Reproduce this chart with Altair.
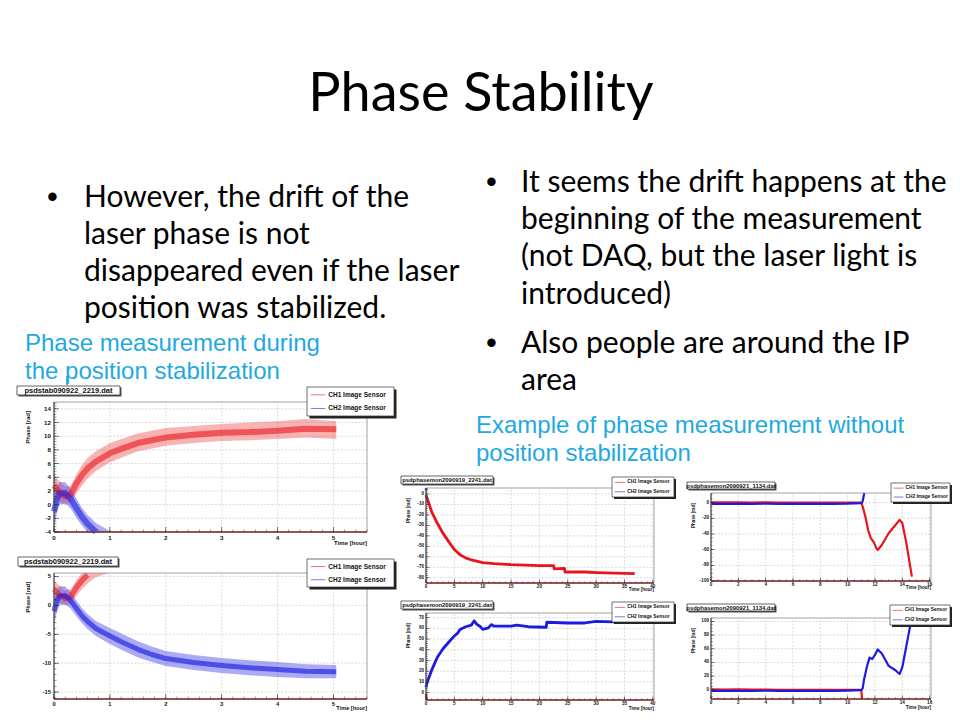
import math
import altair as alt
import pandas as pd

OFF = 8          # page margin: page pixel -> chart pixel
W, H = 944, 704

# ---------------- slide text ----------------
title_text = "Phase Stability"
left_bullet = ["However, the drift of the", "laser phase is not",
               "disappeared even if the laser", "position was stabilized."]
right_bullet1 = ["It seems the drift happens at the", "beginning of the measurement",
                 "(not DAQ, but the laser light is", "introduced)"]
right_bullet2 = ["Also people are around the IP", "area"]
caption_left = ["Phase measurement during", "the position stabilization"]
caption_right = ["Example of phase measurement without", "position stabilization"]

file_A = "psdstab090922_2219.dat"
file_B = "psdphasemon2090919_2241.dat"
file_C = "psdphasemon2090921_1134.dat"
legend_names = ["CH1 Image Sensor", "CH2 Image Sensor"]
x_title = "Time [hour]"
y_title = "Phase [rad]"

# ---------------- dataset A (dense scatter, read as bands) ----------------
tA = [0, 0.05, 0.1, 0.2, 0.3, 0.4, 0.5, 0.6, 0.75, 1.0, 1.25, 1.5, 1.75, 2.0, 2.5, 3.0, 3.5, 4.0, 4.5, 5.05]
A1_mid = [2.8, 2.3, 1.8, 1.2, 1.5, 3.1, 4.3, 5.3, 6.3, 7.5, 8.3, 9.0, 9.4, 9.8, 10.2, 10.5, 10.6, 10.8, 11.1, 11.0]
A1_lo = [1.2, 0.8, 0.4, 0.0, 0.3, 1.6, 2.8, 3.8, 4.9, 6.2, 7.0, 7.8, 8.2, 8.6, 9.0, 9.3, 9.4, 9.6, 9.8, 9.6]
A1_hi = [4.4, 3.8, 3.4, 2.6, 2.8, 4.4, 5.8, 6.8, 7.8, 9.0, 9.7, 10.4, 10.8, 11.2, 11.5, 11.8, 12.0, 12.2, 12.5, 12.2]
A2_mid = [-1.0, 0.8, 1.6, 1.7, 0.8, -0.5, -1.8, -2.8, -4.0, -5.3, -6.5, -7.6, -8.5, -9.2, -9.9, -10.4, -10.8, -11.1, -11.4, -11.5]
A2_lo = [-3.5, -1.2, 0.0, 0.2, -0.6, -1.9, -3.1, -4.1, -5.3, -6.7, -7.9, -9.0, -9.8, -10.5, -11.2, -11.7, -12.1, -12.4, -12.6, -12.6]
A2_hi = [1.0, 2.6, 3.3, 3.3, 2.3, 0.9, -0.5, -1.5, -2.7, -3.9, -5.1, -6.2, -7.1, -7.9, -8.6, -9.1, -9.5, -9.8, -10.2, -10.3]

# ---------------- dataset B ----------------
tB1 = [0, 0.5, 1, 1.5, 2, 3, 4, 5, 6, 7, 8, 10, 12, 15, 20, 22.5, 22.6, 24.4, 24.5, 28, 30, 36.8]
B1 = [-1, -9, -17, -22.6, -28, -37.6, -45.5, -53, -58, -61, -63, -65.5, -66.5, -67.5, -68.5, -68.5,
      -71.5, -71, -74.5, -74.5, -75, -76]
tB2 = [0, 0.2, 0.5, 1, 2, 3, 4, 5, 5.5, 6, 7, 8, 8.5, 9, 9.5, 10, 11, 11.5, 12, 15, 16, 18, 21, 21.2,
       21.3, 25, 28, 30, 33, 36.8]
B2 = [5, 10, 14, 21, 33, 41, 47, 53, 55, 59, 61.5, 63, 67, 63.5, 62, 59, 60.5, 63.5, 62, 62, 63, 61.5,
      61, 61, 65.7, 65, 65, 66.5, 66, 66]
B2_in_top_t = [0, 0.05]      # CH2 visible at the top edge of the CH1 panel
B2_in_top = [3.5, 5.7]
B1_in_bot_t = [0, 0.1]       # CH1 visible at the bottom edge of the CH2 panel
B1_in_bot = [-1.0, -6.8]

# ---------------- dataset C ----------------
tC1 = [0, 1, 2, 3, 4, 5, 6, 7, 8, 9, 10, 11.0, 11.1, 11.3, 11.5, 11.7, 11.9, 12.1, 12.2, 12.5, 13.0,
       13.5, 13.8, 14.0, 14.3, 14.7]
C1 = [0.5, 0.3, 0.5, 0.2, 0.4, 0, 0, 0, 0, 0, 0, 0, -5, -18, -35, -45.5, -50, -58, -60.4, -54, -39,
      -28.5, -22, -26, -52, -94.5]
tC2 = [0, 1, 2, 3, 4, 5, 6, 7, 8, 9, 10, 11.0, 11.1, 11.2, 11.4, 11.6, 11.8, 12.0, 12.2, 12.5, 13.0,
       13.5, 13.8, 14.0, 14.3, 14.6, 14.75]
C2 = [-1.5, -1.5, -1.6, -1.5, -1.4, -1.5, -1.5, -1.5, -1.5, -1.5, -1.2, -0.5, 2, 15, 33, 47, 45, 51,
      59, 53, 35, 28.5, 23, 33, 64.5, 96, 104]
C2_exit_top = (11.22, 12.3)   # where CH2 leaves the top of the CH1 panel
C1_exit_bot = (11.05, -13.5)  # where CH1 leaves the bottom of the CH2 panel

# ---------------- styles ----------------
RF = "Liberation Sans"
SF = "Lato"
RED = "#e8141c"
BLUE = "#1c1ce0"
GRID = "#c2c2c2"
AXB = "#7e2b2b"
CYAN = "#1fa9e1"


def tick_vals(lo, hi, step):
    k0 = math.ceil(lo / step - 1e-9)
    k1 = math.floor(hi / step + 1e-9)
    return [round(k * step, 6) for k in range(k0, k1 + 1)]


def one(text=""):
    return pd.DataFrame({"t": [text]})


def vx(px):
    return alt.value(px - OFF)


def mini(p, bands, lines):
    sx = alt.Scale(domain=p["xd"], range=[p["L"] - OFF, p["R"] - OFF], nice=False, zero=False, clamp=True)
    sy = alt.Scale(domain=p["yd"], range=[p["B"] - OFF, p["T"] - OFF], nice=False, zero=False, clamp=True)

    def X(f):
        return alt.X(f, type="quantitative", scale=sx, axis=None)

    def Y(f):
        return alt.Y(f, type="quantitative", scale=sy, axis=None)

    x0, x1 = p["xd"]
    y0, y1 = p["yd"]
    box = pd.DataFrame({"x0": [x0], "x1": [x1], "y0": [y0], "y1": [y1]})
    xmaj = tick_vals(x0, x1, p["xs"])
    ymaj = tick_vals(y0, y1, p["ys"])
    xmin = tick_vals(x0, x1, p["xs"] / p["xsub"])
    ymin = tick_vals(y0, y1, p["ys"] / p["ysub"])
    Ls = []
    # grid
    Ls.append(alt.Chart(pd.DataFrame({"v": xmaj, "a": y0, "b": y1})).mark_rule(
        color=GRID, strokeWidth=0.6, strokeDash=[2, 1.5]).encode(x=X("v"), y=Y("a"), y2="b"))
    Ls.append(alt.Chart(pd.DataFrame({"v": ymaj, "a": x0, "b": x1})).mark_rule(
        color=GRID, strokeWidth=0.6, strokeDash=[2, 1.5]).encode(y=Y("v"), x=X("a"), x2="b"))
    # data
    for b in bands:
        df = pd.DataFrame({"t": b["t"], "lo": b["lo"], "hi": b["hi"]})
        Ls.append(alt.Chart(df).mark_area(color=b["color"], opacity=b["op"], orient="vertical").encode(
            x=X("t"), y=Y("lo"), y2="hi"))
    for ln in lines:
        df = pd.DataFrame({"t": ln["t"], "v": ln["v"]})
        Ls.append(alt.Chart(df).mark_line(color=ln["color"], strokeWidth=ln["w"], opacity=ln.get("op", 1.0),
                                          strokeJoin="round", strokeCap="butt").encode(x=X("t"), y=Y("v")))
    # frame and axes
    Ls.append(alt.Chart(box).mark_rect(fill="white", fillOpacity=0, stroke="#8c8c8c", strokeWidth=0.8).encode(
        x=X("x0"), x2="x1", y=Y("y0"), y2="y1"))
    Ls.append(alt.Chart(box).mark_rule(color="#333333", strokeWidth=0.9).encode(x=X("x0"), y=Y("y0"), y2="y1"))
    Ls.append(alt.Chart(box).mark_rule(color=AXB, strokeWidth=1.4).encode(x=X("x0"), x2="x1", y=Y("y0")))
    # ticks (inward)
    for vals, ln_, w in ((xmin, p["tmin"], 0.6), (xmaj, p["tmaj"], 0.8)):
        Ls.append(alt.Chart(pd.DataFrame({"v": vals, "a": y0})).mark_tick(
            orient="vertical", size=ln_, thickness=w, color="#222222", yOffset=-ln_ / 2).encode(
            x=X("v"), y=Y("a")))
    for vals, ln_, w in ((ymin, p["tmin"], 0.6), (ymaj, p["tmaj"], 0.8)):
        Ls.append(alt.Chart(pd.DataFrame({"v": vals, "a": x0})).mark_tick(
            orient="horizontal", size=ln_, thickness=w, color="#222222", xOffset=ln_ / 2).encode(
            y=Y("v"), x=X("a")))
    # tick labels
    Ls.append(alt.Chart(pd.DataFrame({"v": xmaj, "a": y0, "lab": ["%g" % v for v in xmaj]})).mark_text(
        font=RF, fontSize=p["lfs"], fontWeight="bold", baseline="top", dy=p["xldy"], color="#111111").encode(
        x=X("v"), y=Y("a"), text="lab:N"))
    Ls.append(alt.Chart(pd.DataFrame({"v": ymaj, "a": x0, "lab": ["%g" % v for v in ymaj]})).mark_text(
        font=RF, fontSize=p["lfs"], fontWeight="bold", align="right", baseline="middle", dx=-p["yldx"],
        color="#111111").encode(y=Y("v"), x=X("a"), text="lab:N"))
    # axis titles
    Ls.append(alt.Chart(pd.DataFrame({"a": [x1], "b": [y0], "t": [x_title]})).mark_text(
        font=RF, fontSize=p["afs"], fontWeight="bold", align="right", baseline="top", dy=p["xtdy"],
        dx=p.get("xtdx", 0), color="#111111").encode(x=X("a"), y=Y("b"), text="t:N"))
    Ls.append(alt.Chart(pd.DataFrame({"a": [x0], "b": [y1], "t": [y_title]})).mark_text(
        font=RF, fontSize=p["afs"], fontWeight="bold", angle=270, align="right", baseline="middle",
        dx=-p["ytdown"], dy=-p["ytleft"], color="#111111").encode(x=X("a"), y=Y("b"), text="t:N"))
    # title box
    bx0, by0, bx1, by1 = p["tbox"]
    Ls.append(alt.Chart(one()).mark_rect(color="#555555").encode(
        x=vx(bx0 + 1.5), x2=vx(bx1 + 1.5), y=vx(by0 + 1.5), y2=vx(by1 + 1.5)))
    Ls.append(alt.Chart(one()).mark_rect(fill="white", stroke="#222222", strokeWidth=0.7).encode(
        x=vx(bx0), x2=vx(bx1), y=vx(by0), y2=vx(by1)))
    Ls.append(alt.Chart(one(p["title"])).mark_text(
        font=RF, fontSize=p["tfs"], fontWeight="bold", baseline="middle", color="#111111").encode(
        x=vx((bx0 + bx1) / 2), y=vx((by0 + by1) / 2 + 0.3), text="t:N"))
    # legend
    gx0, gy0, gx1, gy1 = p["leg"]
    sh = p["legsh"]
    Ls.append(alt.Chart(one()).mark_rect(color="#222222").encode(
        x=vx(gx0 + sh), x2=vx(gx1 + sh), y=vx(gy0 + sh), y2=vx(gy1 + sh)))
    Ls.append(alt.Chart(one()).mark_rect(fill="white", stroke="#333333", strokeWidth=0.7).encode(
        x=vx(gx0), x2=vx(gx1), y=vx(gy0), y2=vx(gy1)))
    hgt = gy1 - gy0
    wid = gx1 - gx0
    for k, (name, col) in enumerate(zip(legend_names, ["#e06868", "#6a6ae0"])):
        yy = gy0 + hgt * (0.27 if k == 0 else 0.74)
        Ls.append(alt.Chart(one()).mark_rule(color=col, strokeWidth=0.9).encode(
            x=vx(gx0 + wid * 0.045), x2=vx(gx0 + wid * 0.21), y=vx(yy)))
        Ls.append(alt.Chart(one(name)).mark_text(
            font=RF, fontSize=p["gfs"], fontWeight="bold", align="left", baseline="middle",
            color="#111111").encode(x=vx(gx0 + wid * 0.245), y=vx(yy), text="t:N"))
    return alt.layer(*Ls)


common_left = dict(xsub=5, ysub=5, tmaj=5, tmin=2.5, lfs=6.2, afs=6, tfs=7.5, gfs=6.5, legsh=2.5,
                   xldy=2.5, yldx=3, xtdy=8, ytdown=9, ytleft=26)
common_right = dict(tmaj=3.5, tmin=1.8, lfs=4.6, afs=4.6, tfs=5.9, gfs=4.8, legsh=2,
                    xldy=1.0, yldx=2, xtdy=4.4, ytdown=10, ytleft=17)

p1 = dict(common_left, L=54, R=367, T=402, B=532, xd=[0, 5.6], yd=[-4, 15], xs=1, ys=2,
          tbox=(17, 386, 120, 395), leg=(307, 387, 394, 416), title=file_A)
p2 = dict(common_left, L=54, R=367, T=573, B=699, xd=[0, 5.6], yd=[-16.2, 5.6], xs=1, ys=5,
          tbox=(18, 557, 118, 566), leg=(307, 559, 394, 587), title=file_A,
          lfs=5.8, afs=5.6, xldy=1.5, xtdy=7)
p3 = dict(common_right, L=426, R=654, T=488, B=583, xd=[0, 40.2], yd=[-85, 5.7], xs=5, ys=10,
          xsub=5, ysub=5, tbox=(401, 476, 493, 484), leg=(612, 477, 674, 497), title=file_B)
p4 = dict(common_right, L=711, R=931, T=493, B=581, xd=[0, 16.1], yd=[-100, 12.3], xs=2, ys=20,
          xsub=4, ysub=4, tbox=(687, 482, 775, 489), leg=(891, 483, 950, 502), title=file_C)
p5 = dict(common_right, L=426, R=654, T=613, B=700, xd=[0, 40.2], yd=[-6.8, 74.3], xs=5, ys=10,
          xsub=5, ysub=5, tbox=(401, 601, 493, 609), leg=(612, 602, 674, 622), title=file_B,
          xldy=0.8, xtdy=6.2)
p6 = dict(common_right, L=711, R=931, T=618, B=699, xd=[0, 16.1], yd=[-13.5, 105], xs=2, ys=20,
          xsub=4, ysub=4, tbox=(687, 604, 775, 611), leg=(890, 605, 950, 625), title=file_C,
          xldy=0.8, xtdy=6.2)


def in_range(ts, vs, lo, hi):
    keep = [(t, v) for t, v in zip(ts, vs) if lo <= v <= hi]
    return [k[0] for k in keep], [k[1] for k in keep]


nA_vis = tA.index(1.0) + 1   # band portion reaching the frame of the other panel

# panel 1: CH1 full, CH2 until it leaves the bottom
t2m, v2m = in_range(tA, A2_mid, p1["yd"][0], p1["yd"][1])
panel1 = mini(p1,
              bands=[dict(t=tA, lo=A1_lo, hi=A1_hi, color="#f25656", op=0.45),
                     dict(t=tA[:nA_vis], lo=A2_lo[:nA_vis], hi=A2_hi[:nA_vis], color="#4444e8", op=0.45)],
              lines=[dict(t=tA, v=A1_mid, color=RED, w=6, op=0.6),
                     dict(t=t2m, v=v2m, color=BLUE, w=6, op=0.6)])
# panel 2: CH2 full, CH1 until it leaves the top
t1m, v1m = in_range(tA, A1_mid, p2["yd"][0], p2["yd"][1])
panel2 = mini(p2,
              bands=[dict(t=tA[:nA_vis], lo=A1_lo[:nA_vis], hi=A1_hi[:nA_vis], color="#f25656", op=0.45),
                     dict(t=tA, lo=A2_lo, hi=A2_hi, color="#4444e8", op=0.45)],
              lines=[dict(t=t1m, v=v1m, color=RED, w=5.5, op=0.6),
                     dict(t=tA, v=A2_mid, color=BLUE, w=5, op=0.65)])
panel3 = mini(p3, bands=[],
              lines=[dict(t=tB1, v=B1, color=RED, w=2.8),
                     dict(t=B2_in_top_t, v=B2_in_top, color=BLUE, w=2.5)])
panel5 = mini(p5, bands=[],
              lines=[dict(t=tB2, v=B2, color=BLUE, w=2.8),
                     dict(t=B1_in_bot_t, v=B1_in_bot, color=RED, w=2.5)])
nC2 = tC2.index(11.1) + 1
nC1 = tC1.index(11.0) + 1
panel4 = mini(p4, bands=[],
              lines=[dict(t=tC1, v=C1, color=RED, w=2.2),
                     dict(t=tC2[:nC2] + [C2_exit_top[0]], v=C2[:nC2] + [C2_exit_top[1]], color=BLUE, w=2.2)])
panel6 = mini(p6, bands=[],
              lines=[dict(t=tC1[:nC1] + [C1_exit_bot[0]], v=C1[:nC1] + [C1_exit_bot[1]], color=RED, w=2.2),
                     dict(t=tC2, v=C2, color=BLUE, w=2.2)])

# ---------------- slide text layers ----------------
texts = []


def add_text(s, x, y, size, font=SF, color="black", align="left", weight="normal"):
    texts.append(alt.Chart(one(s)).mark_text(
        font=font, fontSize=size, color=color, align=align, baseline="alphabetic", fontWeight=weight).encode(
        x=vx(x), y=vx(y), text="t:N"))


BS = 30      # bullet text size
DOT = 31     # bullet glyph size
add_text(title_text, 481, 111, 54, align="center")
lb = [207, 244, 281, 318]
add_text("\u2022", 47, lb[0], DOT, font=RF)
for s, y in zip(left_bullet, lb):
    add_text(s, 84, y, BS)
rb1 = [192, 229, 266, 304]
add_text("\u2022", 486, rb1[0], DOT, font=RF)
for s, y in zip(right_bullet1, rb1):
    add_text(s, 521, y, BS)
rb2 = [353, 390]
add_text("\u2022", 486, rb2[0], DOT, font=RF)
for s, y in zip(right_bullet2, rb2):
    add_text(s, 521, y, BS)
for s, y in zip(caption_left, [351, 379]):
    add_text(s, 25, y, 24, font=RF, color=CYAN)
for s, y in zip(caption_right, [433, 461]):
    add_text(s, 476, y, 24, font=RF, color=CYAN)

cursor = alt.Chart(one()).mark_rule(color=CYAN, strokeWidth=1.5).encode(x=vx(67), y=vx(376), y2=vx(385))

chart = alt.layer(panel1, panel2, panel3, panel4, panel5, panel6, *texts, cursor).resolve_scale(
    x="independent", y="independent").properties(
    width=W, height=H, padding=0, autosize=alt.AutoSizeParams(type="none"),
    background="white").configure_view(stroke=None)

chart.save("out.html", embed_options={"renderer": "svg", "actions": False})
